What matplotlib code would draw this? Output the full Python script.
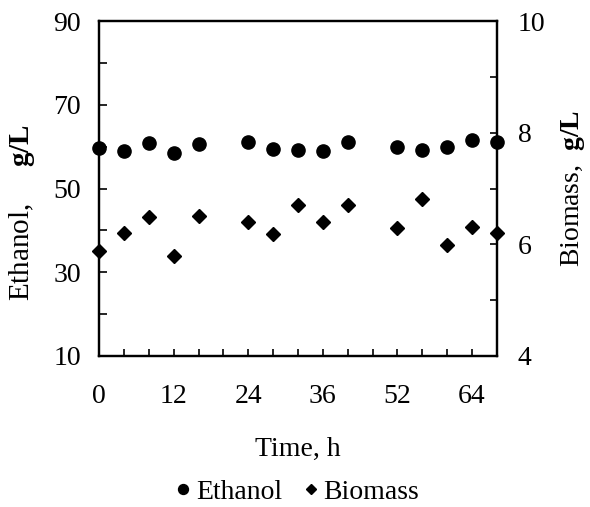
import numpy as np
import matplotlib
matplotlib.use("Agg")
import matplotlib.pyplot as plt

# ==========================================================
# Data
# ==========================================================

time_h = [0, 4, 8, 12, 16, 24, 28, 32, 36, 40, 48, 52, 56, 60, 64]
ethanol = [59.8, 58.9, 60.9, 58.5, 60.7, 61.1, 59.5, 59.3, 58.9, 61.1,
           59.9, 59.3, 59.9, 61.7, 61.1]
biomass = [5.89, 6.20, 6.49, 5.80, 6.50, 6.41, 6.19, 6.71, 6.40, 6.70,
           6.30, 6.81, 5.99, 6.31, 6.21]

xtick_pos = [0, 12, 24, 36, 48, 60]
xtick_labels = ["0", "12", "24", "36", "52", "64"]

# ==========================================================
# Style
# ==========================================================

plt.rcParams["font.family"] = "Liberation Serif"
plt.rcParams["mathtext.fontset"] = "custom"
plt.rcParams["mathtext.rm"] = "Liberation Serif"
plt.rcParams["mathtext.bf"] = "Liberation Serif:bold"

FS = 20

fig = plt.figure(figsize=(5.9, 5.07), dpi=100)
ax = fig.add_axes([0.168, 0.298, 0.674, 0.660])
ax2 = ax.twinx()

ax.plot(time_h, ethanol, "o", color="black", markersize=9.5,
        clip_on=False, zorder=5, label="Ethanol")
ax2.plot(time_h, biomass, "D", color="black", markersize=6.8,
         clip_on=False, zorder=5, label="Biomass")

ax.set_xlim(0, 64)
ax.set_ylim(10, 90)
ax2.set_ylim(4, 10)

ax.set_xticks(range(0, 65, 4), minor=True)
ax.set_xticks(xtick_pos)
ax.set_xticklabels(xtick_labels)
ax.set_yticks([10, 30, 50, 70, 90])
ax.set_yticks(range(10, 91, 10), minor=True)
ax2.set_yticks([4, 6, 8, 10])
ax2.set_yticks(range(4, 11, 1), minor=True)

ax.tick_params(axis="x", which="both", direction="in", length=5, width=1.2,
               labelsize=FS, pad=20)
ax.tick_params(axis="y", which="both", direction="in", length=6, width=1.2,
               labelsize=FS, pad=13)
ax2.tick_params(axis="y", which="both", direction="in", length=5, width=1.2,
                labelsize=FS, pad=15)

for a in (ax, ax2):
    for s in a.spines.values():
        s.set_linewidth(1.6)

ax.set_xlabel("Time, h", fontsize=FS, labelpad=20)
ax.set_ylabel(r"Ethanol,     $\mathbf{g/L}$", fontsize=21)
ax.yaxis.set_label_coords(-0.155, 0.43)
ax2.set_ylabel(r"Biomass,  $\mathbf{g/L}$", fontsize=FS, labelpad=10)

h1, l1 = ax.get_legend_handles_labels()
h2, l2 = ax2.get_legend_handles_labels()
fig.legend(h1 + h2, l1 + l2, loc="center", bbox_to_anchor=(0.5, 0.03),
           ncol=2, frameon=False, fontsize=FS, handletextpad=0.0,
           columnspacing=0.6, handlelength=0.9, markerscale=0.75,
           borderpad=0.2)

fig.savefig("out.png", dpi=100)
